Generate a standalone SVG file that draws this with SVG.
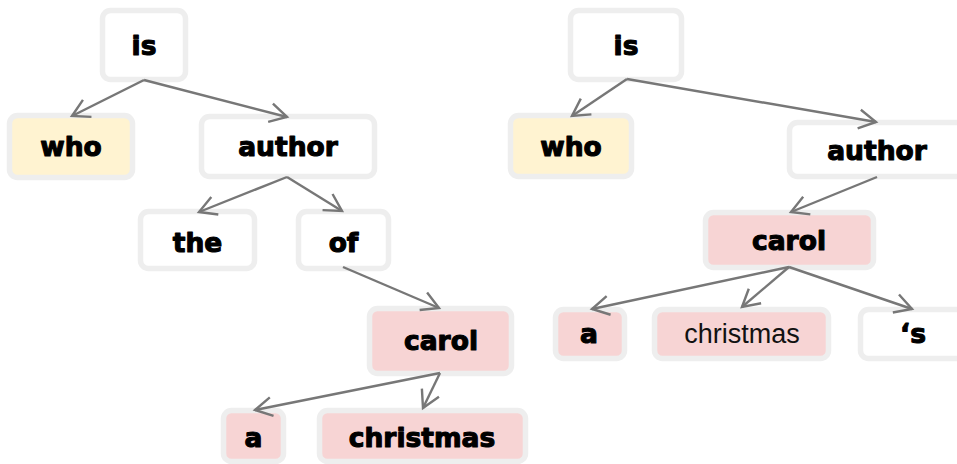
<svg xmlns="http://www.w3.org/2000/svg" width="957" height="464" viewBox="0 0 957 464">
  <style>
    .box { stroke: #eeeeee; stroke-width: 5.5; }
    .plain { fill: #ffffff; }
    .wh { fill: #fff3d1; }
    .ent { fill: #f7d4d4; }
    .lbl { font-family: "DejaVu Sans", "Liberation Sans", sans-serif; font-weight: bold; font-size: 26.5px; fill: #000; stroke: #000; stroke-width: 1.1; stroke-linejoin: round; text-anchor: middle; }
    .reg { font-family: "Liberation Sans", Arial, sans-serif; font-size: 27px; fill: #111; text-anchor: middle; }
    .edge { stroke: #777777; stroke-width: 2.4; fill: none; marker-end: url(#chev); }
  </style>
  <defs>
    <marker id="chev" markerUnits="userSpaceOnUse" markerWidth="40" markerHeight="40" refX="0" refY="0" viewBox="-20 -20 40 40" orient="auto" overflow="visible">
      <path d="M -17,-9.5 L 0,0 L -17,9.5" fill="none" stroke="#777777" stroke-width="2.4" stroke-linejoin="miter"/>
    </marker>
  </defs>

  <!-- left parse tree -->
  <g id="l-is"><rect class="box plain" x="102.5" y="10.5" width="83" height="69" rx="8"/><text class="lbl" x="144" y="55">is</text></g>
  <g id="l-who"><rect class="box wh" x="9.5" y="115.5" width="123" height="62" rx="8"/><text class="lbl" x="71" y="156">who</text></g>
  <g id="l-author"><rect class="box plain" x="201.5" y="116.5" width="173" height="60" rx="8"/><text class="lbl" x="288" y="156">author</text></g>
  <g id="l-the"><rect class="box plain" x="140.5" y="211.5" width="114" height="57" rx="8"/><text class="lbl" x="197.5" y="252">the</text></g>
  <g id="l-of"><rect class="box plain" x="298.5" y="211.5" width="90" height="57" rx="8"/><text class="lbl" x="343.5" y="252">of</text></g>
  <g id="l-carol"><rect class="box ent" x="369.5" y="308.5" width="142" height="65" rx="8"/><text class="lbl" x="441" y="350">carol</text></g>
  <g id="l-a"><rect class="box ent" x="223.5" y="410.5" width="60" height="51" rx="8"/><text class="lbl" x="253.5" y="447">a</text></g>
  <g id="l-christmas"><rect class="box ent" x="319.5" y="410.5" width="206" height="51" rx="8"/><text class="lbl" x="422" y="447">christmas</text></g>

  <!-- right parse tree -->
  <g id="r-is"><rect class="box plain" x="570.5" y="10.5" width="111" height="69" rx="8"/><text class="lbl" x="626" y="55">is</text></g>
  <g id="r-who"><rect class="box wh" x="510.5" y="115.5" width="121" height="61" rx="8"/><text class="lbl" x="571" y="156">who</text></g>
  <g id="r-author"><rect class="box plain" x="789.5" y="122.5" width="200" height="54" rx="8"/><text class="lbl" x="877" y="160">author</text></g>
  <g id="r-carol"><rect class="box ent" x="705.5" y="212.5" width="168" height="55" rx="8"/><text class="lbl" x="789" y="250">carol</text></g>
  <g id="r-a"><rect class="box ent" x="555.5" y="309.5" width="69" height="49" rx="8"/><text class="lbl" x="589" y="343">a</text></g>
  <g id="r-christmas"><rect class="box ent" x="654.5" y="309.5" width="174" height="49" rx="8"/><text class="reg" x="742" y="343">christmas</text></g>
  <g id="r-s"><rect class="box plain" x="860.5" y="309.5" width="120" height="49" rx="8"/><text class="lbl" x="913" y="343">‘s</text></g>

  <!-- dependency arcs -->
  <g id="edges">
    <line class="edge" x1="144" y1="80" x2="72" y2="116"/>
    <line class="edge" x1="144" y1="80" x2="287" y2="117"/>
    <line class="edge" x1="287" y1="177" x2="199" y2="212"/>
    <line class="edge" x1="287" y1="177" x2="342" y2="211"/>
    <line class="edge" x1="343" y1="267" x2="439" y2="308"/>
    <line class="edge" x1="440" y1="373" x2="255" y2="410"/>
    <line class="edge" x1="440" y1="373" x2="423" y2="408"/>

    <line class="edge" x1="627" y1="79" x2="572" y2="116"/>
    <line class="edge" x1="627" y1="79" x2="876" y2="122"/>
    <line class="edge" x1="877" y1="177" x2="791" y2="212"/>
    <line class="edge" x1="789" y1="267" x2="592" y2="309"/>
    <line class="edge" x1="789" y1="267" x2="742" y2="307"/>
    <line class="edge" x1="789" y1="267" x2="912" y2="309"/>
  </g>
</svg>
